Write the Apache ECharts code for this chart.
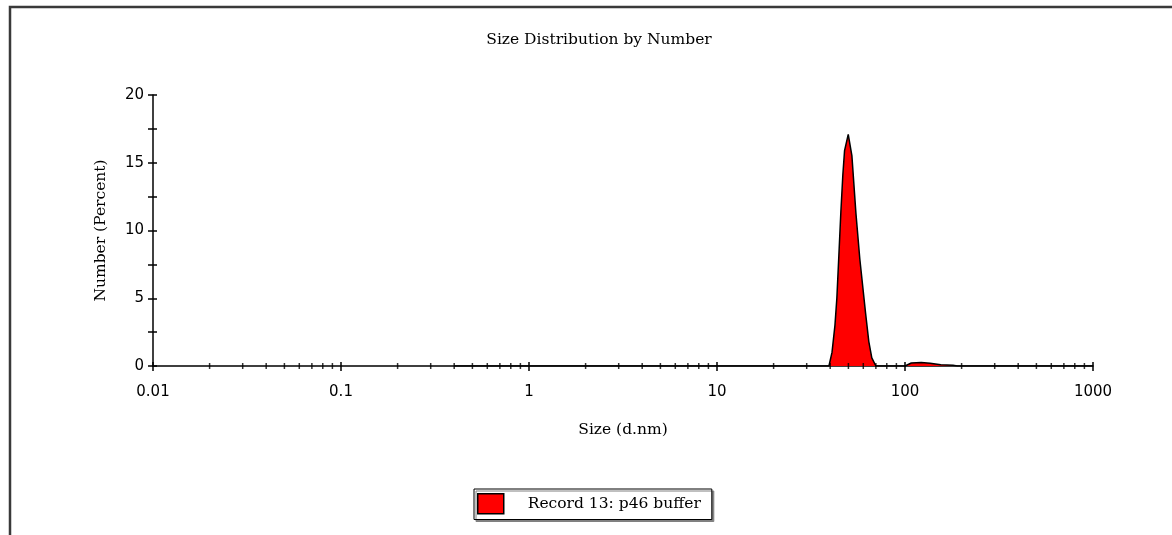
<!DOCTYPE html>
<html>
<head>
<meta charset="utf-8">
<title>Size Distribution by Number</title>
<script src="https://cdn.jsdelivr.net/npm/echarts@6/dist/echarts.min.js"></script>
<style>
html, body { margin: 0; padding: 0; background: #fff; }
#chart { width: 1172px; height: 535px; }
</style>
</head>
<body>
<div id="chart"></div>
<script>
// size (d.nm) and number (%)
var sizes   = [0.4, 39.4, 40.9, 42.4, 43.4, 44.5, 45.6, 46.7, 47.7, 49.9, 52.2, 54.8, 57.5, 61.7, 64.2, 66.6, 70.0, 100, 108, 122, 136, 155, 180, 190, 1000];
var numbers = [0,   0,    1.0,  3.0,  5.0,  8.2,  11.4, 14.1, 15.9, 17.1, 15.5, 11.3, 7.9,  3.9,  1.8,  0.6,  0,    0,   0.22, 0.25, 0.2, 0.1, 0.05, 0,  0];

var xTickLabels = ['0.01', '0.1', '1', '10', '100', '1000'];
var decades = [0.01, 0.1, 1, 10, 100];
var minorSteps = [2, 3, 4, 5, 6, 7, 8, 9];
var recordName = 'Record 13: p46 buffer';

var serif = 'DejaVu Serif';
var sans = 'DejaVu Sans';

var data = [];
for (var i = 0; i < sizes.length; i++) {
  data.push([sizes[i], numbers[i]]);
}

// minor ticks 2..9 of each decade, drawn on the x axis line
var minorTicks = [];
for (let d of decades) {
  for (let m of minorSteps) {
    minorTicks.push([d * m, 0]);
  }
}

function xLabel(v) {
  var e = Math.round(Math.log10(v));
  return xTickLabels[e + 2];
}

var chart = echarts.init(document.getElementById('chart'));
var option = {
  backgroundColor: '#fff',
  animation: false,
  title: {
    text: 'Size Distribution by Number',
    left: 594,
    top: 27,
    textAlign: 'center',
    textStyle: { fontFamily: serif, fontSize: 15.5, fontWeight: 'normal', color: '#000' }
  },
  graphic: [
    {
      type: 'rect',
      shape: { x: 10, y: 7, width: 1200, height: 600 },
      style: { fill: 'none', stroke: '#3a3a3a', lineWidth: 2.5 },
      silent: true
    }
  ],
  grid: {
    left: 153,
    right: 79,
    top: 95,
    bottom: 169,
    outerBoundsMode: 'none'
  },
  legend: {
    left: 474,
    top: 489,
    padding: [4, 11, 5, 3],
    itemWidth: 26,
    itemHeight: 20,
    backgroundColor: '#fff',
    borderColor: '#000',
    borderWidth: 1,
    shadowColor: '#808080',
    shadowBlur: 0,
    shadowOffsetX: 2,
    shadowOffsetY: 2,
    selectedMode: false,
    textStyle: { fontFamily: serif, fontSize: 15.5, color: '#000', padding: [0, 0, 0, 19] },
    data: [{
      name: recordName,
      icon: 'rect',
      itemStyle: { color: '#ff0000', borderColor: '#000', borderWidth: 1.5 }
    }]
  },
  xAxis: [
    {
      type: 'log',
      logBase: 10,
      min: 0.01,
      max: 1000,
      name: 'Size (d.nm)',
      nameLocation: 'middle',
      nameGap: 56,
      nameTextStyle: { fontFamily: serif, fontSize: 15.5, color: '#000' },
      axisLine: { onZero: false, lineStyle: { color: '#000', width: 1.5 } },
      axisTick: { show: true, length: 5, lineStyle: { color: '#000', width: 1.5 } },
      axisLabel: { margin: 19, fontFamily: sans, fontSize: 15, color: '#000', formatter: xLabel },
      splitLine: { show: false },
      minorTick: { show: false }
    },
    {
      // upper half of the crossing major ticks
      type: 'log',
      logBase: 10,
      min: 0.01,
      max: 1000,
      position: 'bottom',
      axisLine: { show: false, onZero: false },
      axisTick: { show: true, inside: true, length: 4, lineStyle: { color: '#000', width: 1.5 } },
      axisLabel: { show: false },
      splitLine: { show: false }
    }
  ],
  yAxis: [
    {
      type: 'value',
      min: 0,
      max: 20,
      interval: 5,
      name: 'Number (Percent)',
      nameLocation: 'middle',
      nameGap: 44,
      nameTextStyle: { fontFamily: serif, fontSize: 15.5, color: '#000' },
      axisLine: { show: true, onZero: false, lineStyle: { color: '#000', width: 1.5 } },
      axisTick: { show: true, length: 5, lineStyle: { color: '#000', width: 1.5 } },
      minorTick: { show: true, splitNumber: 2, length: 5, lineStyle: { color: '#000', width: 1.5 } },
      axisLabel: { margin: 9, fontFamily: sans, fontSize: 15, color: '#000' },
      splitLine: { show: false }
    },
    {
      type: 'value',
      min: 0,
      max: 20,
      interval: 5,
      position: 'left',
      axisLine: { show: false, onZero: false },
      axisTick: { show: true, inside: true, length: 4, lineStyle: { color: '#000', width: 1.5 } },
      minorTick: { show: true, splitNumber: 2, length: 4, lineStyle: { color: '#000', width: 1.5 } },
      axisLabel: { show: false },
      splitLine: { show: false }
    }
  ],
  series: [
    {
      name: recordName,
      type: 'line',
      data: data,
      symbol: 'none',
      smooth: false,
      itemStyle: { color: '#ff0000' },
      lineStyle: { color: '#000', width: 1.5 },
      areaStyle: { color: '#ff0000', opacity: 1 },
      z: 3
    },
    {
      name: 'minor ticks',
      type: 'scatter',
      data: minorTicks,
      symbol: 'rect',
      symbolSize: [1.5, 6],
      itemStyle: { color: '#000' },
      silent: true,
      clip: false,
      z: 4
    }
  ]
};
chart.setOption(option);
</script>
</body>
</html>
